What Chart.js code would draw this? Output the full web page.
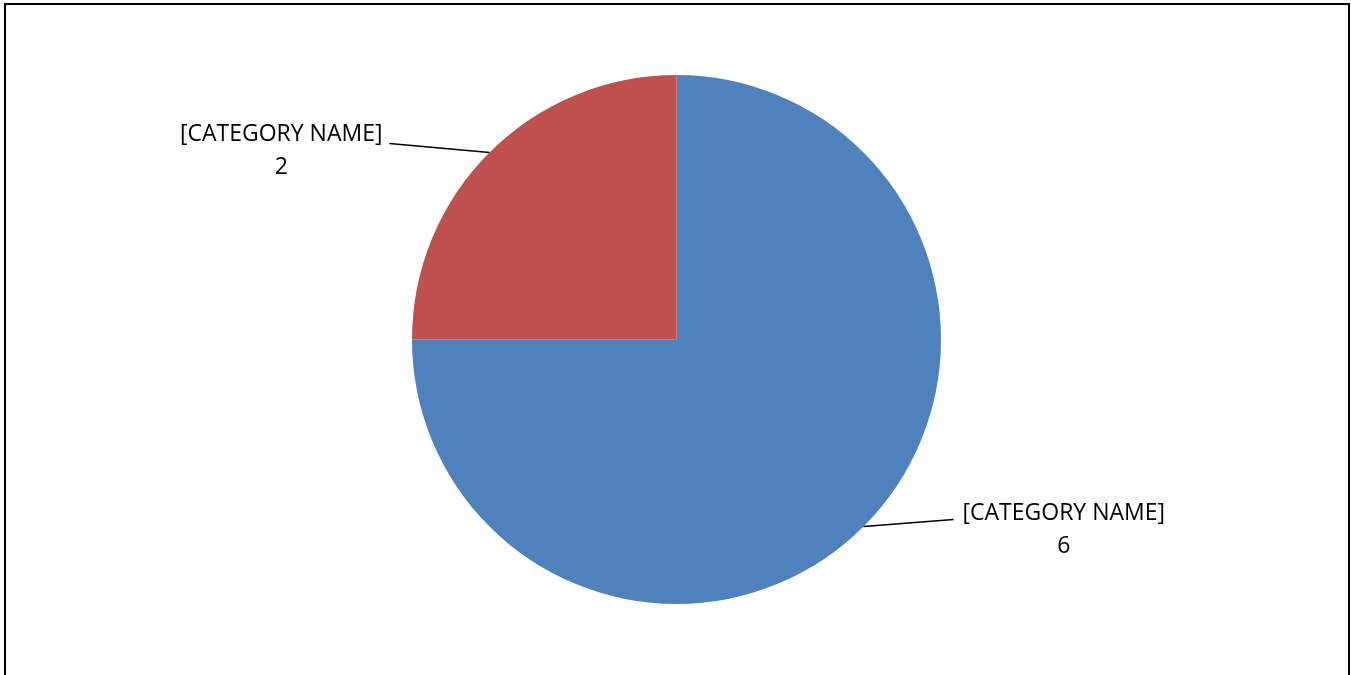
<!DOCTYPE html>
<html>
<head>
<meta charset="utf-8">
<script src="https://cdn.jsdelivr.net/npm/chart.js@4/dist/chart.umd.min.js"></script>
<style>
  html, body { margin: 0; padding: 0; background: #fff; overflow: hidden; }
  .frame {
    position: absolute; left: 4px; top: 3px;
    width: 1342px; height: 720px;
    border: 2px solid #000;
  }
  #wrap { position: absolute; left: 0; top: 0; width: 1351px; height: 675px; }
</style>
</head>
<body>
<div class="frame"></div>
<div id="wrap"><canvas id="pie"></canvas></div>
<script>
// slice data
const categories = ['[CATEGORY NAME]', '[CATEGORY NAME]'];
const values = [6, 2];
const sliceColors = ['#4F81BD', '#C0504D'];

// leader line offsets from the slice edge (dx, dy) and text gap, per slice
const leaderOffsets = [
  { dx: 90, dy: -7, gap: 9, textDy: -6 },
  { dx: -100, dy: -9, gap: 7, textDy: -9 }
];

const calloutLabels = {
  id: 'calloutLabels',
  afterDatasetsDraw(chart) {
    const ctx = chart.ctx;
    const meta = chart.getDatasetMeta(0);
    ctx.save();
    ctx.font = '23px "Open Sans", sans-serif';
    ctx.fillStyle = '#000';
    ctx.strokeStyle = '#000';
    ctx.lineWidth = 1.5;
    meta.data.forEach((arc, i) => {
      const { x, y, startAngle, endAngle, outerRadius } = arc.getProps(['x', 'y', 'startAngle', 'endAngle', 'outerRadius'], true);
      const mid = (startAngle + endAngle) / 2;
      const px = x + Math.cos(mid) * outerRadius;
      const py = y + Math.sin(mid) * outerRadius;
      const off = leaderOffsets[i];
      const ex = px + off.dx;
      const ey = py + off.dy;

      ctx.beginPath();
      ctx.moveTo(px, py);
      ctx.lineTo(ex, ey);
      ctx.stroke();

      const name = chart.data.labels[i];
      const w = ctx.measureText(name).width;
      const right = off.dx > 0;
      const cx = right ? ex + off.gap + w / 2 : ex - off.gap - w / 2;
      const ty = ey + off.textDy;
      ctx.textAlign = 'center';
      ctx.textBaseline = 'middle';
      ctx.fillText(name, cx, ty);
      ctx.fillText(String(chart.data.datasets[0].data[i]), cx, ty + 33);
    });
    ctx.restore();
  }
};

new Chart(document.getElementById('pie'), {
  type: 'pie',
  data: {
    labels: categories,
    datasets: [{
      data: values,
      backgroundColor: sliceColors,
      borderWidth: 0
    }]
  },
  options: {
    responsive: true,
    maintainAspectRatio: false,
    animation: false,
    layout: { padding: { left: 2, right: 0, top: 75, bottom: 71 } },
    plugins: {
      legend: { display: false },
      tooltip: { enabled: false }
    }
  },
  plugins: [calloutLabels]
});
</script>
</body>
</html>
